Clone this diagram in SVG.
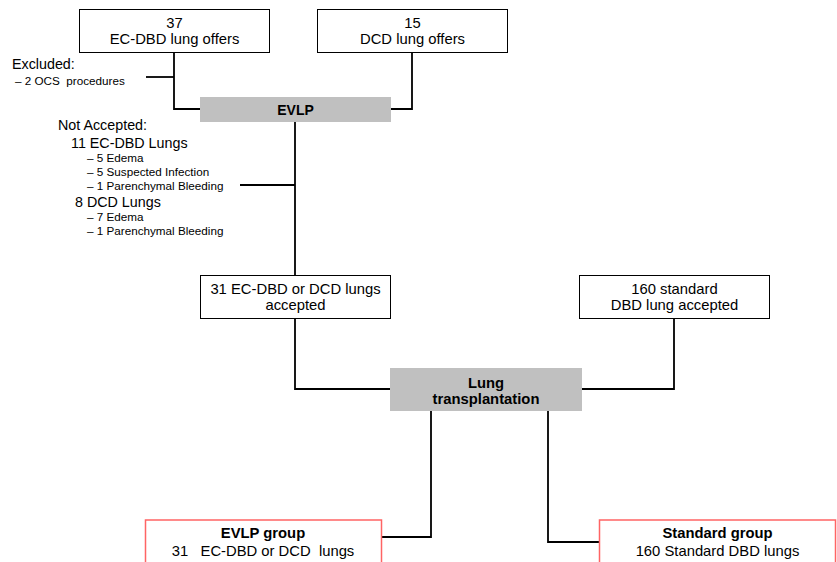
<svg xmlns="http://www.w3.org/2000/svg" width="837" height="562" viewBox="0 0 837 562">
<style>
  text { font-family: "Liberation Sans", Arial, sans-serif; fill: #000; }
  .box { fill: #fff; stroke: #000; stroke-width: 1; }
  .gray { fill: #c0c0c0; stroke: none; }
  .red { fill: #fff; stroke: #ff6464; stroke-width: 1.5; }
  .bt { font-size: 14.8px; text-anchor: middle; }
  .bb { font-size: 14.8px; font-weight: bold; text-anchor: middle; }
  .ann { font-size: 14.3px; }
  .sub { font-size: 11.7px; }
  .conn { fill: none; stroke: #000; stroke-width: 1.8; }
</style>
<rect width="837" height="562" fill="#fff"/>
<g id="connectors">
  <path class="conn" d="M174,52 V109 H200"/>
  <path class="conn" d="M146,77 H174"/>
  <path class="conn" d="M412,52 V109 H391"/>
  <path class="conn" d="M295,122 V275"/>
  <path class="conn" d="M240,185 H295"/>
  <path class="conn" d="M295,318 V389 H390"/>
  <path class="conn" d="M674,318 V389 H582"/>
  <path class="conn" d="M431,411 V537 H381"/>
  <path class="conn" d="M548,411 V542 H599"/>
</g>
<g id="ecdbd-offers">
  <rect class="box" x="79.5" y="9.5" width="190" height="43"/>
  <text class="bt" x="174.5" y="28">37</text>
  <text class="bt" x="174.5" y="44">EC-DBD lung offers</text>
</g>
<g id="dcd-offers">
  <rect class="box" x="317.5" y="9.5" width="190" height="43"/>
  <text class="bt" x="412.5" y="28">15</text>
  <text class="bt" x="412.5" y="44">DCD lung offers</text>
</g>
<g id="excluded">
  <text class="ann" x="12" y="69">Excluded:</text>
  <text class="sub" x="15" y="85" xml:space="preserve">– 2 OCS  procedures</text>
</g>
<g id="evlp">
  <rect class="gray" x="200" y="97" width="191" height="25"/>
  <text class="bb" x="295.5" y="115" style="font-size:14px">EVLP</text>
</g>
<g id="not-accepted">
  <text class="ann" x="58" y="130">Not Accepted:</text>
  <text class="ann" x="71" y="148">11 EC-DBD Lungs</text>
  <text class="sub" x="87" y="162">– 5 Edema</text>
  <text class="sub" x="87" y="176">– 5 Suspected Infection</text>
  <text class="sub" x="87" y="190">– 1 Parenchymal Bleeding</text>
  <text class="ann" x="75" y="207">8 DCD Lungs</text>
  <text class="sub" x="87" y="221">– 7 Edema</text>
  <text class="sub" x="87" y="235">– 1 Parenchymal Bleeding</text>
</g>
<g id="accepted-31">
  <rect class="box" x="200.5" y="275.5" width="190" height="43"/>
  <text class="bt" x="295.5" y="294">31 EC-DBD or DCD lungs</text>
  <text class="bt" x="295.5" y="310">accepted</text>
</g>
<g id="standard-160">
  <rect class="box" x="579.5" y="275.5" width="190" height="43"/>
  <text class="bt" x="674.5" y="294">160 standard</text>
  <text class="bt" x="674.5" y="310">DBD lung accepted</text>
</g>
<g id="lung-transplantation">
  <rect class="gray" x="390" y="368" width="192" height="43"/>
  <text class="bb" x="486" y="388">Lung</text>
  <text class="bb" x="486" y="404">transplantation</text>
</g>
<g id="evlp-group">
  <rect class="red" x="145.5" y="520" width="236" height="60"/>
  <text class="bb" x="263" y="538">EVLP group</text>
  <text class="bt" x="263" y="556" xml:space="preserve">31   EC-DBD or DCD  lungs</text>
</g>
<g id="standard-group">
  <rect class="red" x="599.5" y="520" width="236" height="60"/>
  <text class="bb" x="717.5" y="538">Standard group</text>
  <text class="bt" x="717.5" y="556">160 Standard DBD lungs</text>
</g>
</svg>
